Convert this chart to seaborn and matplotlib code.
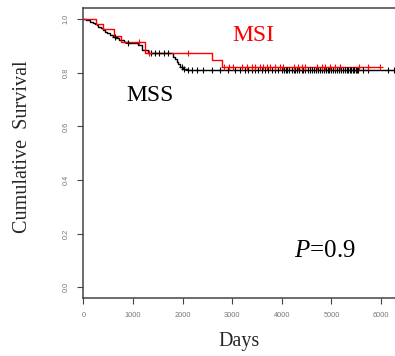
import numpy as np
import pandas as pd
import matplotlib
matplotlib.use("Agg")
import matplotlib.pyplot as plt
import seaborn as sns

# ---- data ----
msi_times = [0, 256, 403, 619, 753, 1244, 2590, 2790]
msi_surv = [1.0, 0.981, 0.963, 0.938, 0.916, 0.873, 0.848, 0.822]
msi_censor = [1115, 1330, 2100, 2830, 2925, 3025, 3190, 3295, 3395, 3460, 3560,
              3630, 3700, 3765, 3865, 3965, 4030, 4235, 4335, 4405, 4470, 4705,
              4805, 4875, 4975, 5075, 5175, 5545, 5745, 5980]

mss_times = [0, 60, 135, 190, 236, 270, 303, 350, 403, 440, 471, 540, 605, 660,
             726, 820, 907, 1109, 1177, 1311, 1815, 1850, 1882, 1915, 1950, 2000, 2085]
mss_surv = [1.0, 0.996, 0.991, 0.987, 0.982, 0.977, 0.972, 0.966, 0.960, 0.954,
            0.948, 0.941, 0.935, 0.929, 0.923, 0.916, 0.910, 0.904, 0.885, 0.874,
            0.860, 0.851, 0.842, 0.832, 0.823, 0.816, 0.812]
mss_censor = [639, 907, 1365, 1446, 1532, 1627, 1714, 1983, 2030, 2117, 2185, 2286,
              2419, 2588, 2756, 2923, 3058, 3159, 3260, 3327, 3395, 3462, 3528,
              3597, 3663, 3730, 3798, 3865, 3931, 4000, 4040, 4080, 4110, 4150,
              4200, 4240, 4270, 4300, 4350, 4400, 4430, 4470, 4520, 4560, 4600,
              4640, 4680, 4720, 4760, 4800, 4840, 4880, 4920, 4960, 5000, 5040,
              5080, 5120, 5160, 5200, 5240, 5280, 5310, 5340, 5370, 5400, 5430,
              5460, 5490, 5510, 5544, 5645, 5726, 6149, 6250]

x_ticks = [0, 1000, 2000, 3000, 4000, 5000, 6000]
y_ticks = [0.0, 0.2, 0.4, 0.6, 0.8, 1.0]
y_tick_labels = ["0.0", "0.2", "0.4", "0.6", "0.8", "1.0"]


def curve(times, surv, censor, end):
    t = list(times) + [end]
    s = list(surv) + [surv[-1]]
    line = pd.DataFrame({"days": t, "surv": s})
    idx = np.searchsorted(np.array(times), np.array(censor), side="right") - 1
    cens = pd.DataFrame({"days": censor, "surv": np.array(surv)[idx]})
    return line, cens


sns.set_theme(style="white")
plt.rcParams["mathtext.fontset"] = "custom"
plt.rcParams["mathtext.rm"] = "Liberation Serif"
plt.rcParams["mathtext.it"] = "Liberation Serif:italic"

fig = plt.figure(figsize=(3.95, 3.56), dpi=100)
ax = fig.add_axes([0.211, 0.162, 0.789, 0.815])

for times, surv, censor, end, color in [
    (mss_times, mss_surv, mss_censor, 6400, "#000000"),
    (msi_times, msi_surv, msi_censor, 5980, "#ff0000"),
]:
    line, cens = curve(times, surv, censor, end)
    sns.lineplot(data=line, x="days", y="surv", drawstyle="steps-post",
                 estimator=None, sort=False, color=color, linewidth=1.0, ax=ax)
    sns.scatterplot(data=cens, x="days", y="surv", marker="+", s=22,
                    color=color, linewidth=0.8, ax=ax, zorder=3)

ax.set_xlim(0, 6280)
ax.set_ylim(-0.041, 1.041)
ax.set_xticks(x_ticks)
ax.set_xticklabels([str(v) for v in x_ticks])
ax.set_yticks(y_ticks)
ax.set_yticklabels(y_tick_labels, rotation=90, va="center")
ax.tick_params(axis="both", which="major", length=4, width=0.8, color="#444444",
               labelsize=5.3, labelcolor="#777777", direction="out",
               bottom=True, left=True, pad=6)
for lab in ax.get_xticklabels() + ax.get_yticklabels():
    lab.set_family("Liberation Sans")

for side in ["left", "bottom", "top"]:
    ax.spines[side].set_color("#444444")
    ax.spines[side].set_linewidth(1.1)
ax.spines["right"].set_visible(False)

ax.set_xlabel("Days", family="Liberation Serif", fontsize=14.5, labelpad=9)
ax.set_ylabel("Cumulative  Survival", family="Liberation Serif", fontsize=14.5)
ax.yaxis.set_label_coords(-0.166, 0.522)

ax.text(3421, 0.938, "MSI", color="#ff0000", family="Liberation Serif",
        fontsize=17, ha="center", va="center")
ax.text(1345, 0.717, "MSS", color="#000000", family="Liberation Serif",
        fontsize=17, ha="center", va="center")
ax.text(4873, 0.135, r"$P$=0.9", color="#000000", family="Liberation Serif",
        fontsize=18, ha="center", va="center")

fig.savefig("out.png", dpi=100)
